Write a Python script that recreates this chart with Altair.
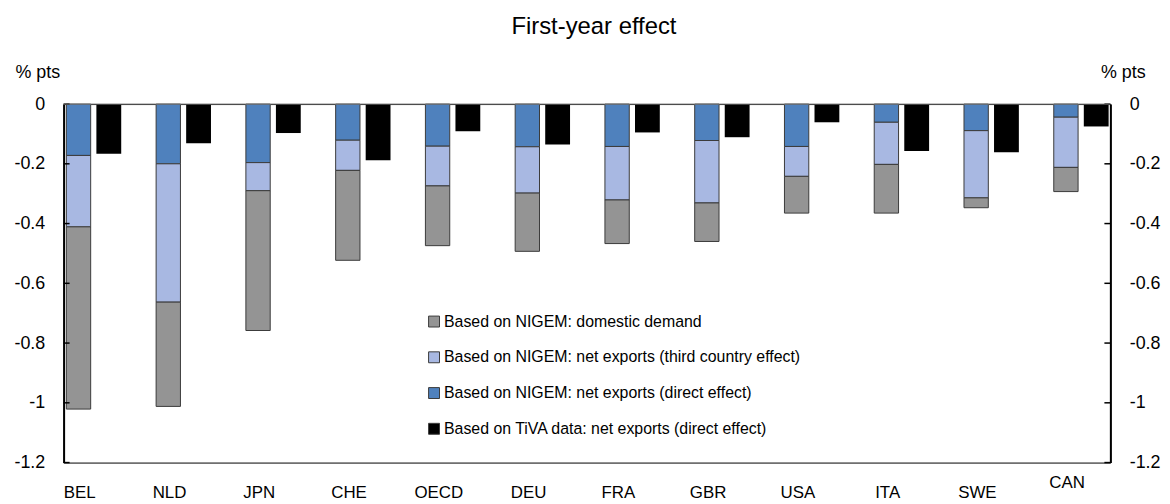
import altair as alt
import pandas as pd

countries = ["BEL", "NLD", "JPN", "CHE", "OECD", "DEU", "FRA", "GBR", "USA", "ITA", "SWE", "CAN"]
direct = [-0.172, -0.200, -0.196, -0.121, -0.141, -0.143, -0.142, -0.122, -0.142, -0.061, -0.089, -0.044]
third = [-0.239, -0.463, -0.094, -0.101, -0.133, -0.155, -0.179, -0.209, -0.100, -0.141, -0.225, -0.168]
domestic = [-0.610, -0.349, -0.468, -0.301, -0.200, -0.195, -0.146, -0.129, -0.123, -0.163, -0.033, -0.081]
tiva = [-0.166, -0.131, -0.097, -0.188, -0.091, -0.135, -0.095, -0.111, -0.061, -0.157, -0.161, -0.075]

s_dom = "Based on NIGEM: domestic demand"
s_third = "Based on NIGEM: net exports (third country effect)"
s_direct = "Based on NIGEM: net exports (direct effect)"
s_tiva = "Based on TiVA data: net exports (direct effect)"
series_order = [s_dom, s_third, s_direct, s_tiva]
series_colors = ["#949494", "#A8B8E2", "#4F81BD", "#000000"]
y_ticks = [0, -0.2, -0.4, -0.6, -0.8, -1.0, -1.2]
chart_title = ["First-year effect"]

rows = []
for i, c in enumerate(countries):
    rows.append({"country": c, "series": s_direct, "value": direct[i], "rank": 0})
    rows.append({"country": c, "series": s_third, "value": third[i], "rank": 1})
    rows.append({"country": c, "series": s_dom, "value": domestic[i], "rank": 2})
stack_df = pd.DataFrame(rows)
tiva_df = pd.DataFrame({"country": countries, "series": s_tiva, "value": tiva})
tick_df = pd.DataFrame({"v": y_ticks})
title_df = pd.DataFrame({"t": chart_title})

FONT = "Liberation Sans"
W, H = 1054, 361

xscale = alt.Scale(domain=countries, range=[-14.94, 1069.7], paddingInner=0, paddingOuter=0)
yscale = alt.Scale(domain=[-1.2, 0], nice=False, zero=False)
cscale = alt.Scale(domain=series_order, range=series_colors)

label_expr = "datum.value == 0 ? '0' : '-' + format(abs(datum.value), '~g')"

x_axis = alt.Axis(
    title=None, orient="bottom", domain=False, ticks=False, tickSize=0,
    labelFont=FONT, labelFontSize=17, labelColor="black", labelAngle=0,
    labelOffset=-14, labelBaseline="top",
    labelPadding={"condition": {"test": "datum.value === 'CAN'", "value": 12}, "value": 22},
)
y_left = alt.Axis(
    values=y_ticks, labelExpr=label_expr, orient="left", grid=False,
    ticks=False, tickSize=0, domain=True, domainColor="black", domainWidth=2,
    labelFont=FONT, labelFontSize=18, labelColor="black", labelPadding=19,
    title="% pts", titleAngle=0, titleAlign="center", titleBaseline="middle",
    titleX=-26.5, titleY=-32, titleFont=FONT, titleFontSize=18,
    titleFontWeight="normal", titleColor="black",
)
y_right = alt.Axis(
    values=y_ticks, labelExpr=label_expr, orient="right", grid=False,
    ticks=False, tickSize=0, domain=True, domainColor="black", domainWidth=2,
    labelFont=FONT, labelFontSize=18, labelColor="black", labelPadding=19,
    title="% pts", titleAngle=0, titleAlign="center", titleBaseline="middle",
    titleX=12.5, titleY=-32, titleFont=FONT, titleFontSize=18,
    titleFontWeight="normal", titleColor="black",
)

legend = alt.Legend(
    title=None, orient="none", legendX=365, legendY=211, direction="vertical",
    symbolType="square", symbolSize=121, symbolStrokeColor="#3a3a3a",
    symbolStrokeWidth=1, symbolOpacity=1, labelFont=FONT, labelFontSize=16,
    labelColor="black", labelLimit=600, rowPadding=20, padding=0,
    labelOffset=2,
)

stacked = alt.Chart(stack_df).mark_bar(
    width=24.5, xOffset=-15.25, stroke="#3a3a3a", strokeWidth=1
).encode(
    x=alt.X("country:N", scale=xscale, axis=x_axis, sort=countries),
    y=alt.Y("value:Q", scale=yscale, axis=y_left, stack="zero"),
    color=alt.Color("series:N", scale=cscale, legend=legend, sort=series_order),
    order=alt.Order("rank:Q"),
)

black = alt.Chart(tiva_df).mark_bar(
    width=25, xOffset=15.25
).encode(
    x=alt.X("country:N", scale=xscale, sort=countries),
    y=alt.Y("value:Q", scale=yscale),
    color=alt.Color("series:N", scale=cscale, legend=legend, sort=series_order),
)

right_axis = alt.Chart(tick_df).mark_rule(opacity=0).encode(
    y=alt.Y("v:Q", scale=yscale, axis=y_right),
)

ticks_left = alt.Chart(tick_df).mark_rule(color="black", strokeWidth=1.5).encode(
    y=alt.Y("v:Q", scale=yscale),
    x=alt.value(0), x2=alt.value(6),
)
ticks_right = alt.Chart(tick_df).mark_rule(color="black", strokeWidth=1.5).encode(
    y=alt.Y("v:Q", scale=yscale),
    x=alt.value(W - 6), x2=alt.value(W),
)
zero_line = alt.Chart(tick_df).transform_filter("datum.v == 0").mark_rule(
    color="#808080", strokeWidth=1
).encode(
    y=alt.Y("v:Q", scale=yscale),
    x=alt.value(0), x2=alt.value(W),
)
title_mark = alt.Chart(title_df).mark_text(
    font=FONT, fontSize=24, color="black", align="center", baseline="alphabetic"
).encode(
    text="t:N", x=alt.value(534), y=alt.value(-70.5),
)

left_layer = alt.layer(stacked, black, ticks_left, ticks_right, zero_line, title_mark)
chart = alt.layer(left_layer, right_axis).resolve_scale(y="independent").properties(
    width=W, height=H,
    padding={"left": 56, "top": 95, "right": 52, "bottom": 40},
    autosize="none",
).configure_view(
    stroke="black", strokeWidth=1
)

chart.save("out.html", embed_options={"renderer": "svg", "actions": False})
